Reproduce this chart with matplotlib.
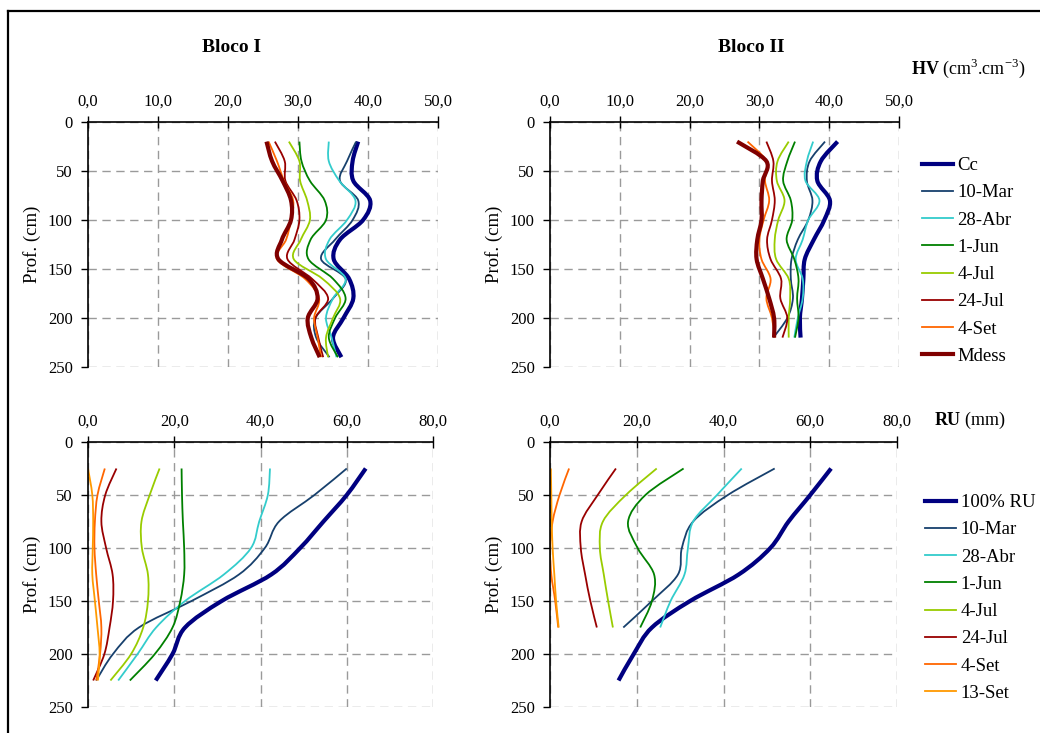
import numpy as np
import matplotlib.pyplot as plt
from matplotlib.path import Path
from matplotlib.patches import PathPatch
from matplotlib.lines import Line2D

plt.rcParams['font.family'] = ['Liberation Serif', 'DejaVu Serif']
plt.rcParams['mathtext.fontset'] = 'custom'
plt.rcParams['mathtext.rm'] = 'Liberation Serif'
plt.rcParams['mathtext.bf'] = 'Liberation Serif:bold'

# --- data: soil moisture (HV) and available water (RU) profiles ---
hv_depth_1 = [20, 40, 60, 80, 100, 120, 140, 160, 180, 200, 220, 240]
hv_bloco1 = {
    "Cc":     [38.6, 37.8, 37.9, 40.3, 39.3, 36.0, 35.1, 37.3, 37.9, 36.5, 35.0, 36.2],
    "10-Mar": [38.3, 37.0, 36.0, 38.6, 37.8, 35.3, 33.3, 36.8, 35.0, 32.5, 32.6, 34.5],
    "28-Abr": [34.4, 34.4, 35.9, 38.2, 37.0, 34.5, 34.0, 36.8, 35.0, 34.0, 34.8, 35.5],
    "1-Jun":  [30.2, 30.5, 31.7, 33.8, 34.0, 31.8, 31.5, 35.0, 36.8, 35.3, 34.4, 35.7],
    "4-Jul":  [28.7, 30.2, 30.3, 31.3, 31.7, 30.4, 29.4, 33.5, 36.0, 35.0, 34.0, 34.3],
    "24-Jul": [26.7, 28.1, 28.2, 29.8, 30.2, 29.5, 28.5, 32.0, 34.3, 32.5, 32.9, 33.6],
    "4-Set":  [25.8, 27.0, 28.0, 29.3, 29.0, 28.3, 27.0, 31.0, 33.0, 32.3, 32.8, 33.3],
    "Mdess":  [25.5, 26.3, 27.8, 29.0, 29.0, 27.7, 27.2, 31.5, 32.8, 31.4, 31.9, 33.1],
}

hv_depth_2 = [20, 40, 60, 80, 100, 120, 140, 160, 180, 200, 220]
hv_bloco2 = {
    "Cc":     [41.2, 38.8, 38.3, 40.1, 39.3, 37.8, 36.5, 36.3, 36.1, 35.8, 35.9],
    "10-Mar": [39.4, 37.2, 36.8, 37.6, 37.0, 35.5, 34.6, 34.5, 34.8, 34.0, 32.0],
    "28-Abr": [37.7, 36.8, 36.6, 38.6, 37.0, 36.2, 35.2, 36.2, 36.2, 35.5, 35.0],
    "1-Jun":  [35.1, 34.0, 33.4, 34.5, 34.7, 33.9, 35.0, 35.6, 35.4, 35.6, 35.1],
    "4-Jul":  [34.2, 32.6, 32.5, 33.6, 32.7, 32.2, 32.4, 34.2, 34.4, 34.2, 34.2],
    "24-Jul": [31.0, 32.0, 31.8, 32.2, 31.8, 31.1, 31.6, 33.1, 33.0, 34.0, 33.3],
    "4-Set":  [28.3, 31.0, 30.8, 31.4, 30.6, 30.0, 30.3, 31.6, 31.0, 31.8, 32.2],
    "Mdess":  [26.8, 31.0, 30.5, 30.3, 30.3, 29.7, 29.6, 30.5, 31.4, 32.1, 32.1],
}

ru_depth_1 = [25, 50, 75, 100, 125, 150, 175, 200, 225]
ru_bloco1 = {
    "100% RU": [64.4, 60.0, 54.6, 49.2, 42.5, 31.0, 22.5, 19.6, 15.7],
    "10-Mar":  [60.0, 52.5, 44.3, 41.0, 35.0, 24.0, 11.8, 5.8, 1.9],
    "28-Abr":  [42.2, 41.7, 39.7, 37.8, 31.5, 22.5, 15.8, 11.5, 7.0],
    "1-Jun":   [21.7, 21.8, 22.0, 22.3, 22.3, 21.4, 19.6, 15.5, 9.7],
    "4-Jul":   [16.6, 14.3, 12.4, 12.5, 13.9, 13.9, 12.8, 10.0, 5.2],
    "24-Jul":  [6.6, 4.0, 3.1, 4.2, 5.7, 5.8, 5.0, 3.8, 1.2],
    "4-Set":   [3.9, 2.2, 1.6, 1.5, 1.9, 2.5, 3.1, 2.8, 1.9],
    "13-Set":  [0.0, 1.0, 1.2, 1.1, 1.0, 1.6, 2.2, 2.7, 2.3],
}

ru_depth_2_full = [25, 50, 75, 100, 125, 150, 175, 200, 225]
ru_depth_2 = [25, 50, 75, 100, 125, 150, 175]
ru_bloco2 = {
    "100% RU": [64.8, 60.0, 55.0, 50.8, 43.5, 32.3, 23.5, 19.3, 15.8],
    "10-Mar":  [51.8, 41.0, 33.0, 30.4, 29.5, 23.5, 16.9],
    "28-Abr":  [44.2, 38.5, 33.0, 31.8, 31.0, 27.8, 25.4],
    "1-Jun":   [30.8, 22.0, 18.0, 20.2, 24.0, 23.5, 20.8],
    "4-Jul":   [24.6, 17.5, 12.2, 11.5, 12.4, 13.4, 14.5],
    "24-Jul":  [15.2, 11.0, 7.3, 7.1, 8.1, 9.3, 10.8],
    "4-Set":   [4.4, 2.2, 0.6, 0.0, 0.3, 1.2, 1.9],
    "13-Set":  [0.2, 0.3, 0.4, 0.6, 1.0, 1.4, 2.0],
}

hv_ticks = [0, 10, 20, 30, 40, 50]
hv_ticklabels = ["0,0", "10,0", "20,0", "30,0", "40,0", "50,0"]
ru_ticks = [0, 20, 40, 60, 80]
ru_ticklabels = ["0,0", "20,0", "40,0", "60,0", "80,0"]
depth_ticks = [0, 50, 100, 150, 200, 250]

# --- styles ---
colors = {
    "Cc": "#000080", "100% RU": "#000080", "10-Mar": "#17406D",
    "28-Abr": "#33CCCC", "1-Jun": "#008000", "4-Jul": "#99CC00",
    "24-Jul": "#990000", "4-Set": "#FF6600", "13-Set": "#FF9900",
    "Mdess": "#800000",
}
thick = {"Cc", "100% RU", "Mdess"}


def smooth_patch(x, y, color, lw):
    # Excel-style smoothed line: Catmull-Rom converted to cubic Bezier segments
    p = np.column_stack([x, y]).astype(float)
    ext = np.vstack([p[0], p, p[-1]])
    verts = [p[0]]
    codes = [Path.MOVETO]
    for i in range(len(p) - 1):
        p0, p1, p2, p3 = ext[i], ext[i + 1], ext[i + 2], ext[i + 3]
        verts += [p1 + (p2 - p0) / 6, p2 - (p3 - p1) / 6, p2]
        codes += [Path.CURVE4] * 3
    return PathPatch(Path(verts, codes), fill=False, edgecolor=color,
                     lw=lw, capstyle='butt', joinstyle='round')


def setup_axis(ax, xmax, ticks, ticklabels):
    ax.set_xlim(0, xmax)
    ax.set_ylim(250, 0)
    ax.xaxis.tick_top()
    ax.set_xticks(ticks)
    ax.set_xticklabels(ticklabels)
    ax.set_yticks(depth_ticks)
    ax.tick_params(axis='x', direction='inout', length=8, width=1, pad=5, labelsize=12)
    ax.tick_params(axis='y', direction='out', length=5, width=1, pad=6, labelsize=12)
    for s in ['bottom', 'right']:
        ax.spines[s].set_visible(False)
    for s in ['top', 'left']:
        ax.spines[s].set_linewidth(1.2)
    ax.grid(True, color='#9A9A9A', ls=(0, (6, 4)), lw=1)
    ax.set_axisbelow(True)
    ax.set_ylabel("Prof. (cm)", fontsize=13.5, labelpad=5)


def draw_panel(ax, depth, series, full_depth=None):
    for name, vals in series.items():
        d = depth if len(vals) == len(depth) else full_depth
        ax.add_patch(smooth_patch(vals, d, colors[name], 3.0 if name in thick else 1.3))


W, H = 1040, 733
fig = plt.figure(figsize=(W / 100, H / 100), dpi=100)


def add_ax(left, top, right, bottom):
    return fig.add_axes([left / W, 1 - bottom / H, (right - left) / W, (bottom - top) / H])


ax_tl = add_ax(88, 122, 438, 367)
ax_tr = add_ax(550, 122, 899, 367)
ax_bl = add_ax(88, 442, 433, 707)
ax_br = add_ax(550, 442, 897, 707)

draw_panel(ax_tl, hv_depth_1, hv_bloco1)
draw_panel(ax_tr, hv_depth_2, hv_bloco2)
draw_panel(ax_bl, ru_depth_1, ru_bloco1)
draw_panel(ax_br, ru_depth_2, ru_bloco2, full_depth=ru_depth_2_full)

setup_axis(ax_tl, 50, hv_ticks, hv_ticklabels)
setup_axis(ax_tr, 50, hv_ticks, hv_ticklabels)
setup_axis(ax_bl, 80, ru_ticks, ru_ticklabels)
setup_axis(ax_br, 80, ru_ticks, ru_ticklabels)

# titles / units
fig.text(231 / W, 1 - 47 / H, "Bloco I", ha='center', va='center', fontsize=14, fontweight='bold')
fig.text(751 / W, 1 - 47 / H, "Bloco II", ha='center', va='center', fontsize=14, fontweight='bold')
fig.text(911 / W, 1 - 68 / H, r"$\mathbf{HV}$ (cm$^{3}$.cm$^{-3}$)", ha='left', va='center', fontsize=13)
fig.text(934 / W, 1 - 420 / H, r"$\mathbf{RU}$ (mm)", ha='left', va='center', fontsize=13)


def legend_handles(series):
    return [Line2D([], [], color=colors[n], lw=3.0 if n in thick else 1.3) for n in series]


leg_kw = dict(loc='upper left', frameon=False, fontsize=13.5, handlelength=1.65,
              handletextpad=0.25, labelspacing=0.54, borderpad=0, borderaxespad=0)
fig.legend(legend_handles(hv_bloco1), list(hv_bloco1), bbox_to_anchor=(922 / W, 1 - 157 / H), **leg_kw)
fig.legend(legend_handles(ru_bloco1), list(ru_bloco1), bbox_to_anchor=(925 / W, 1 - 494 / H), **leg_kw)

# outer frame (left and top edges visible)
fig.add_artist(Line2D([8 / W, 8 / W], [0, 1 - 11 / H], color='black', lw=1.6))
fig.add_artist(Line2D([8 / W, 1], [1 - 11 / H, 1 - 11 / H], color='black', lw=1.6))

fig.savefig("out.png", dpi=100)
